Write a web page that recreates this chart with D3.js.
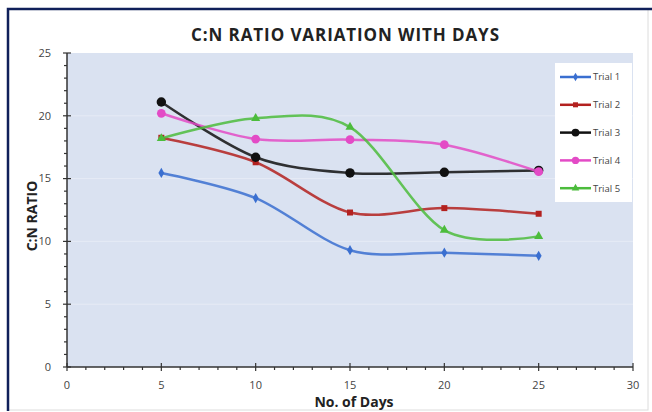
<!DOCTYPE html>
<html>
<head>
<meta charset="utf-8">
<script src="https://cdn.jsdelivr.net/npm/d3@7"></script>
<style>
    body { margin: 0; background: #fff; }
    svg { display: block; font-family: "Open Sans", "DejaVu Sans", sans-serif; }
</style>
</head>
<body>
<div id="chart"></div>
<script>
// values
var days = [5, 10, 15, 20, 25];
var trialNames = ["Trial 1", "Trial 2", "Trial 3", "Trial 4", "Trial 5"];
var trial1 = [15.45, 13.45, 9.3, 9.1, 8.85];
var trial2 = [18.25, 16.3, 12.3, 12.65, 12.2];
var trial3 = [21.1, 16.7, 15.45, 15.5, 15.65];
var trial4 = [20.2, 18.15, 18.1, 17.7, 15.55];
var trial5 = [18.2, 19.8, 19.1, 10.9, 10.4];
var xTicks = [0, 5, 10, 15, 20, 25, 30];
var yTicks = [0, 5, 10, 15, 20, 25];

var series = [trial1, trial2, trial3, trial4, trial5];
var colors = ["#3a6fd0", "#b3211f", "#111111", "#e34bc6", "#4cbc3c"];
var shapes = [d3.symbolDiamond, d3.symbolSquare, d3.symbolCircle, d3.symbolCircle, d3.symbolTriangle];
var sizes = [30, 36, 70, 60, 36];

var svgWidth = 652;
var svgHeight = 412;
var margin = { top: 53, right: 19, bottom: 45, left: 67 };
var chart_width = svgWidth - margin.left - margin.right;
var chart_height = svgHeight - margin.top - margin.bottom;

var svg = d3.select("#chart")
    .append("svg")
    .attr("width", svgWidth)
    .attr("height", svgHeight);

// outer frame
svg.append("rect")
    .attr("x", 8).attr("y", 9)
    .attr("width", 640).attr("height", 401)
    .attr("fill", "#fff")
    .attr("stroke", "#dcdcdc");
svg.append("path")
    .attr("d", "M8,411 V9 H652")
    .attr("fill", "none")
    .attr("stroke", "#10205a")
    .attr("stroke-width", 2.5);

// title
svg.append("text")
    .attr("x", 345).attr("y", 41)
    .attr("text-anchor", "middle")
    .attr("font-size", 17)
    .attr("font-weight", "bold")
    .attr("fill", "#222")
    .attr("textLength", 308)
    .text("C:N RATIO VARIATION WITH DAYS");

var chart = svg.append("g")
    .attr("transform", `translate(${margin.left}, ${margin.top})`);

var xScale = d3.scaleLinear().domain([0, 30]).range([0, chart_width]);
var yScale = d3.scaleLinear().domain([0, 25]).range([chart_height, 0]);

// plot area
chart.append("rect")
    .attr("width", chart_width)
    .attr("height", chart_height)
    .attr("fill", "#dae2f1");

// faint gridlines
chart.append("g")
    .selectAll("line")
    .data(yTicks.filter(d => d > 0 && d < 25))
    .enter()
    .append("line")
    .attr("x1", 0).attr("x2", chart_width)
    .attr("y1", d => yScale(d)).attr("y2", d => yScale(d))
    .attr("stroke", "#e6ebf5")
    .attr("stroke-width", 1);

// axes with minor ticks
var minorX = d3.range(0, 31, 1);
var minorY = d3.range(0, 25.01, 1);

var xAxis = chart.append("g")
    .attr("transform", `translate(0, ${chart_height})`);
xAxis.append("line")
    .attr("x1", 0).attr("x2", chart_width)
    .attr("stroke", "#333").attr("stroke-width", 1.5);
xAxis.selectAll(".minor")
    .data(minorX)
    .enter()
    .append("line")
    .attr("x1", d => xScale(d)).attr("x2", d => xScale(d))
    .attr("y1", d => d % 5 == 0 ? -4 : 0)
    .attr("y2", d => d % 5 == 0 ? 4 : 3)
    .attr("stroke", "#333").attr("stroke-width", 1.2);
xAxis.selectAll(".lbl")
    .data(xTicks)
    .enter()
    .append("text")
    .attr("x", d => xScale(d))
    .attr("y", 22)
    .attr("text-anchor", "middle")
    .attr("font-size", 11)
    .attr("fill", "#444")
    .text(d => d);

var yAxis = chart.append("g");
yAxis.append("line")
    .attr("y1", 0).attr("y2", chart_height)
    .attr("stroke", "#333").attr("stroke-width", 1.5);
yAxis.selectAll(".minor")
    .data(minorY)
    .enter()
    .append("line")
    .attr("y1", d => yScale(d)).attr("y2", d => yScale(d))
    .attr("x1", d => d % 5 == 0 ? -4 : -3)
    .attr("x2", d => d % 5 == 0 ? 4 : 0)
    .attr("stroke", "#333").attr("stroke-width", 1.2);
yAxis.selectAll(".lbl")
    .data(yTicks)
    .enter()
    .append("text")
    .attr("x", -16)
    .attr("y", d => yScale(d))
    .attr("dy", "0.35em")
    .attr("text-anchor", "end")
    .attr("font-size", 11)
    .attr("fill", "#444")
    .text(d => d);

// axis titles
chart.append("text")
    .attr("transform", "rotate(-90)")
    .attr("x", -(chart_height / 2) - 6)
    .attr("y", -30)
    .attr("text-anchor", "middle")
    .attr("font-size", 14)
    .attr("font-weight", "bold")
    .attr("fill", "#222")
    .text("C:N RATIO");

chart.append("text")
    .attr("x", xScale(15) + 4)
    .attr("y", chart_height + 40)
    .attr("text-anchor", "middle")
    .attr("font-size", 14)
    .attr("font-weight", "bold")
    .attr("fill", "#222")
    .text("No. of Days");

// lines
var line = d3.line()
    .x((d, i) => xScale(days[i]))
    .y(d => yScale(d))
    .curve(d3.curveCardinal.tension(0.05));

series.forEach(function(values, k) {
    chart.append("path")
        .datum(values)
        .attr("d", line)
        .attr("fill", "none")
        .attr("stroke", colors[k])
        .attr("stroke-width", 2.5)
        .attr("stroke-opacity", 0.85);

    chart.append("g")
        .selectAll("path")
        .data(values)
        .enter()
        .append("path")
        .attr("transform", (d, i) => `translate(${xScale(days[i])}, ${yScale(d)})`)
        .attr("d", d3.symbol().type(shapes[k]).size(sizes[k]))
        .attr("fill", colors[k]);
});

// legend
var legend = svg.append("g");
legend.append("rect")
    .attr("x", 555).attr("y", 63)
    .attr("width", 77).attr("height", 139)
    .attr("fill", "#fff");

var entries = legend.selectAll(".entry")
    .data(trialNames)
    .enter()
    .append("g")
    .attr("transform", (d, i) => `translate(560, ${77 + i * 27.8})`);
entries.append("line")
    .attr("x1", 0).attr("x2", 31)
    .attr("stroke", (d, i) => colors[i])
    .attr("stroke-width", 2.5);
entries.append("path")
    .attr("transform", "translate(15.5, 0)")
    .attr("d", (d, i) => d3.symbol().type(shapes[i]).size(sizes[i] * 0.7)())
    .attr("fill", (d, i) => colors[i]);
entries.append("text")
    .attr("x", 33)
    .attr("dy", "0.35em")
    .attr("font-size", 9.5)
    .attr("fill", "#444")
    .text(d => d);
</script>
</body>
</html>
